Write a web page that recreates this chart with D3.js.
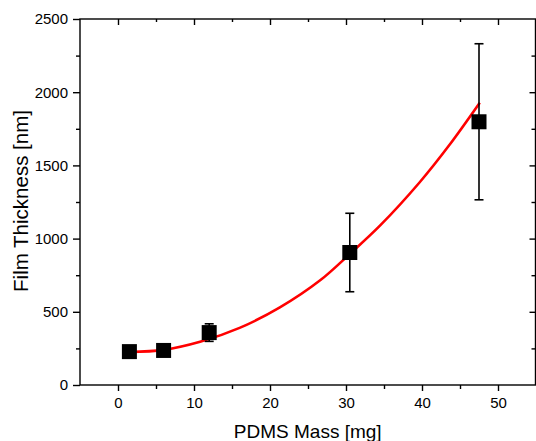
<!DOCTYPE html>
<html>
<head>
<meta charset="utf-8">
<script src="https://cdn.jsdelivr.net/npm/d3@7"></script>
<style>
  html, body { margin: 0; padding: 0; background: #fff; }
  svg { display: block; }
  text { font-family: "Liberation Sans", Arial, sans-serif; fill: #000; }
</style>
</head>
<body>
<svg id="chart" width="536" height="441"></svg>
<script>
// ---- data ----
const massMg      = [1.5, 6.0, 12.0, 30.5, 47.5];
const thicknessNm = [228, 236, 358, 905, 1798];
const errorNm     = [40, 30, 60, 268, 533];

// fitted curve
const fitMass = [1.5, 6, 10.8, 16, 21.3, 26.6, 30.5, 34.5, 39.7, 43.5, 47.6];
const fitThk  = [225, 240, 295, 390, 530, 715, 895, 1090, 1385, 1632, 1928];

const xMajorTicks = [0, 10, 20, 30, 40, 50];
const xMinorTicks = [-5, 5, 15, 25, 35, 45, 55];
const yMajorTicks = [0, 500, 1000, 1500, 2000, 2500];
const yMinorTicks = [250, 750, 1250, 1750, 2250];

const xLabel = "PDMS Mass [mg]";
const yLabel = "Film Thickness [nm]";

// ---- layout ----
const svg = d3.select("#chart");
const padL = 80, padR = 536, padT = 19, padB = 385, frameR = 535.5;

const x = d3.scaleLinear().domain([-5, 55]).range([padL, padR]);
const y = d3.scaleLinear().domain([0, 2500]).range([padB, padT]);

const axisStroke = 1.4;

function styleAxis(g) {
  g.select(".domain").remove();
  g.selectAll(".tick line").attr("stroke", "#000").attr("stroke-width", axisStroke);
  g.selectAll(".tick text").style("font-size", "15px").attr("fill", "#111");
}
const innerMinorX = xMinorTicks.filter(d => d > -5 && d < 55);
const fmt = d3.format("d");

// bottom axis (outward ticks)
svg.append("g").attr("transform", `translate(0,${padB})`)
  .call(d3.axisBottom(x).tickValues(xMajorTicks).tickSize(6).tickPadding(6).tickFormat(fmt))
  .call(styleAxis);
svg.append("g").attr("transform", `translate(0,${padB})`)
  .call(d3.axisBottom(x).tickValues(innerMinorX).tickSize(4).tickFormat(""))
  .call(styleAxis);

// top axis (inward ticks)
svg.append("g").attr("transform", `translate(0,${padT})`)
  .call(d3.axisBottom(x).tickValues(xMajorTicks).tickSize(6).tickFormat(""))
  .call(styleAxis);
svg.append("g").attr("transform", `translate(0,${padT})`)
  .call(d3.axisBottom(x).tickValues(innerMinorX).tickSize(3).tickFormat(""))
  .call(styleAxis);

// left axis (outward ticks)
svg.append("g").attr("transform", `translate(${padL},0)`)
  .call(d3.axisLeft(y).tickValues(yMajorTicks).tickSize(7).tickPadding(5).tickFormat(fmt))
  .call(styleAxis);
svg.append("g").attr("transform", `translate(${padL},0)`)
  .call(d3.axisLeft(y).tickValues(yMinorTicks).tickSize(4).tickFormat(""))
  .call(styleAxis);

// right axis (inward ticks)
svg.append("g").attr("transform", `translate(${frameR},0)`)
  .call(d3.axisLeft(y).tickValues(yMajorTicks.filter(d => d > 0 && d < 2500)).tickSize(6).tickFormat(""))
  .call(styleAxis);
svg.append("g").attr("transform", `translate(${frameR},0)`)
  .call(d3.axisLeft(y).tickValues(yMinorTicks).tickSize(4).tickFormat(""))
  .call(styleAxis);

// frame
svg.append("rect")
  .attr("x", padL).attr("y", padT)
  .attr("width", frameR - padL).attr("height", padB - padT)
  .attr("fill", "none").attr("stroke", "#000").attr("stroke-width", axisStroke);

// fit curve
const fitData = fitMass.map((m, i) => [m, fitThk[i]]);
svg.append("path")
  .datum(fitData)
  .attr("d", d3.line().x(d => x(d[0])).y(d => y(d[1])).curve(d3.curveCatmullRom))
  .attr("fill", "none").attr("stroke", "#ff0000").attr("stroke-width", 2.6);

// error bars
const pts = massMg.map((m, i) => ({ m, t: thicknessNm[i], e: errorNm[i] }));
const eb = svg.append("g").attr("stroke", "#000").attr("stroke-width", 1.6);
pts.forEach(p => {
  eb.append("line").attr("x1", x(p.m)).attr("x2", x(p.m)).attr("y1", y(p.t - p.e)).attr("y2", y(p.t + p.e));
  [p.t - p.e, p.t + p.e].forEach(v => {
    eb.append("line").attr("x1", x(p.m) - 4.5).attr("x2", x(p.m) + 4.5).attr("y1", y(v)).attr("y2", y(v));
  });
});

// square markers
const sz = 15;
svg.append("g").selectAll("rect").data(pts).join("rect")
  .attr("x", d => x(d.m) - sz / 2).attr("y", d => y(d.t) - sz / 2)
  .attr("width", sz).attr("height", sz).attr("fill", "#000");

// axis titles
svg.append("text")
  .attr("x", (padL + frameR) / 2).attr("y", 438)
  .attr("text-anchor", "middle").style("font-size", "19px").attr("fill", "#111").text(xLabel);
svg.append("text")
  .attr("transform", `translate(28,201) rotate(-90)`)
  .attr("text-anchor", "middle").style("font-size", "20.5px").attr("fill", "#111").text(yLabel);
</script>
</body>
</html>
